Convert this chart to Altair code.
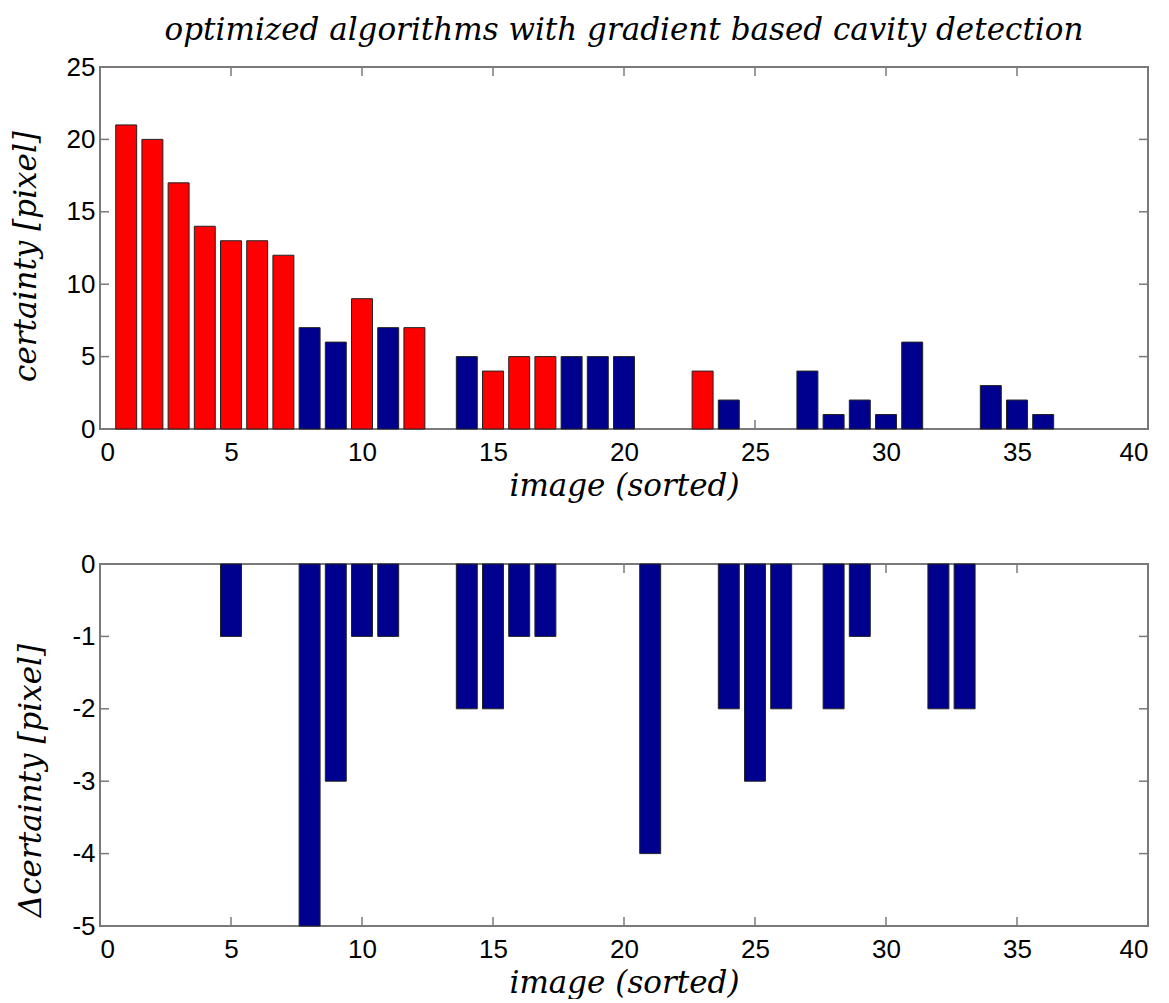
import altair as alt
import pandas as pd

# ---- data ----
top_image = [1, 2, 3, 4, 5, 6, 7, 8, 9, 10, 11, 12,
             14, 15, 16, 17, 18, 19, 20,
             23, 24,
             27, 28, 29, 30, 31,
             34, 35, 36]
top_certainty = [21, 20, 17, 14, 13, 13, 12, 7, 6, 9, 7, 7,
                 5, 4, 5, 5, 5, 5, 5,
                 4, 2,
                 4, 1, 2, 1, 6,
                 3, 2, 1]
top_class = ["red", "red", "red", "red", "red", "red", "red", "blue", "blue", "red", "blue", "red",
             "blue", "red", "red", "red", "blue", "blue", "blue",
             "red", "blue",
             "blue", "blue", "blue", "blue", "blue",
             "blue", "blue", "blue"]

bottom_image = [5, 8, 9, 10, 11, 14, 15, 16, 17, 21, 24, 25, 26, 28, 29, 32, 33]
bottom_delta = [-1, -5, -3, -1, -1, -2, -2, -1, -1, -4, -2, -3, -2, -2, -1, -2, -2]

x_ticks = [0, 5, 10, 15, 20, 25, 30, 35, 40]
top_y_ticks = [0, 5, 10, 15, 20, 25]
bottom_y_ticks = [-5, -4, -3, -2, -1, 0]

W, H = 1048, 362
TICK = 9
AX = "#7a7a7a"
RED = "#FF0000"
NAVY = "#00008F"
SERIF = "DejaVu Serif"
SERIF_SIZE = 31

top_df = pd.DataFrame({"image": top_image, "value": top_certainty, "cls": top_class})
bot_df = pd.DataFrame({"image": bottom_image, "value": bottom_delta})
xt_df = pd.DataFrame({"t": x_ticks})
yt_top_df = pd.DataFrame({"t": top_y_ticks})
yt_bot_df = pd.DataFrame({"t": bottom_y_ticks})

xscale = alt.Scale(domain=[0, 40], nice=False, zero=False)


def x_axis():
    return alt.Axis(values=x_ticks, title="image (sorted)", grid=False, domain=False,
                    ticks=False, tickSize=0, labelPadding=10, titlePadding=6,
                    labelExpr="'' + datum.value")


def y_axis(vals, title, title_y):
    return alt.Axis(values=vals, title=title, grid=False, domain=False,
                    ticks=False, tickSize=0, labelPadding=5, titlePadding=24,
                    titleY=title_y, labelExpr="'' + datum.value")


def tick_layers(yt_df, yscale, yax):
    xb = alt.Chart(xt_df).mark_rule(color=AX, strokeWidth=1.5).encode(
        x=alt.X("t:Q", scale=xscale, axis=x_axis()), y=alt.value(H), y2=alt.value(H - TICK))
    xtop = alt.Chart(xt_df).mark_rule(color=AX, strokeWidth=1.5).encode(
        x=alt.X("t:Q", scale=xscale, axis=x_axis()), y=alt.value(0), y2=alt.value(TICK))
    yl = alt.Chart(yt_df).mark_rule(color=AX, strokeWidth=1.5).encode(
        y=alt.Y("t:Q", scale=yscale, axis=yax), x=alt.value(0), x2=alt.value(TICK))
    yr = alt.Chart(yt_df).mark_rule(color=AX, strokeWidth=1.5).encode(
        y=alt.Y("t:Q", scale=yscale, axis=yax), x=alt.value(W), x2=alt.value(W - TICK))
    return [xb, xtop, yl, yr]


top_yscale = alt.Scale(domain=[0, 25], nice=False)
top_yaxis = y_axis(top_y_ticks, "certainty [pixel]", 189)
top_bars = alt.Chart(top_df).transform_calculate(
    x0="datum.image - 0.4", x1="datum.image + 0.4", base="0"
).mark_bar(stroke="#222222", strokeWidth=1).encode(
    x=alt.X("x0:Q", scale=xscale, axis=x_axis()),
    x2="x1:Q",
    y=alt.Y("value:Q", scale=top_yscale, axis=top_yaxis),
    y2="base:Q",
    color=alt.Color("cls:N", scale=alt.Scale(domain=["red", "blue"], range=[RED, NAVY]), legend=None),
)

view = alt.ViewBackground(stroke=AX, strokeWidth=2, fill="white")

top = alt.layer(*tick_layers(yt_top_df, top_yscale, top_yaxis), top_bars).properties(
    width=W, height=H, view=view,
    title=alt.TitleParams("optimized algorithms with gradient based cavity detection",
                          font=SERIF, fontStyle="italic", fontWeight="normal",
                          fontSize=SERIF_SIZE, color="black", anchor="middle", frame="group", offset=7),
)

bot_yscale = alt.Scale(domain=[-5, 0], nice=False)
bot_yaxis = y_axis(bottom_y_ticks, "\u0394certainty [pixel]", 216)
bot_bars = alt.Chart(bot_df).transform_calculate(
    x0="datum.image - 0.4", x1="datum.image + 0.4", base="0"
).mark_bar(stroke="#222222", strokeWidth=1, color=NAVY).encode(
    x=alt.X("x0:Q", scale=xscale, axis=x_axis()),
    x2="x1:Q",
    y=alt.Y("value:Q", scale=bot_yscale, axis=bot_yaxis),
    y2="base:Q",
)

bottom = alt.layer(*tick_layers(yt_bot_df, bot_yscale, bot_yaxis), bot_bars).properties(
    width=W, height=H, view=view)

chart = alt.vconcat(top, bottom, spacing=48).properties(
    padding={"left": 1, "top": 6, "right": 5, "bottom": 0},
    background="white",
).configure_view(
    stroke=AX, strokeWidth=2
).configure_axis(
    labelFont="Liberation Sans", labelFontSize=26, labelColor="black",
    titleFont=SERIF, titleFontStyle="italic", titleFontWeight="normal",
    titleFontSize=SERIF_SIZE, titleColor="black",
)

chart.save("out.html", embed_options={"renderer": "svg", "actions": False})
